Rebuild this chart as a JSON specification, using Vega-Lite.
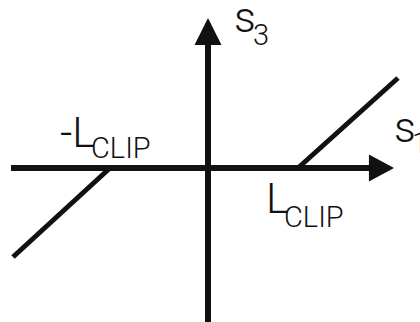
{
  "$schema": "https://vega.github.io/schema/vega-lite/v6.json",
  "width": 420,
  "height": 322,
  "autosize": {"type": "none"},
  "padding": 0,
  "background": "white",
  "config": {"view": {"stroke": null}},
  "datasets": {
    "axes": [
      {"axis": "s1", "s1": -197, "s3": 0},
      {"axis": "s1", "s1": 163, "s3": 0},
      {"axis": "s3", "s1": 0, "s3": -156},
      {"axis": "s3", "s1": 0, "s3": 124}
    ],
    "arrowheads": [
      {"axis": "s1", "s1": 173.5, "s3": 0},
      {"axis": "s3", "s1": 0, "s3": 136.5}
    ],
    "response": [
      {"piece": "below -Lclip", "s1": -195, "s3": -89},
      {"piece": "below -Lclip", "s1": -98, "s3": 0},
      {"piece": "above Lclip", "s1": 90, "s3": 0},
      {"piece": "above Lclip", "s1": 190, "s3": 90}
    ],
    "labels": [
      {"text": "s", "role": "main", "s1": 26, "s3": 136},
      {"text": "3", "role": "sub", "s1": 45, "s3": 123},
      {"text": "s", "role": "main", "s1": 186, "s3": 26},
      {"text": "1", "role": "sub", "s1": 204, "s3": 15},
      {"text": "-L", "role": "main", "s1": -148, "s3": 21},
      {"text": "CLIP", "role": "sub", "s1": -117, "s3": 10},
      {"text": "L", "role": "main", "s1": 58, "s3": -45},
      {"text": "CLIP", "role": "sub", "s1": 76, "s3": -59}
    ]
  },
  "encoding": {
    "x": {"field": "s1", "type": "quantitative", "scale": {"domain": [-208, 212]}, "axis": null},
    "y": {"field": "s3", "type": "quantitative", "scale": {"domain": [-154, 168]}, "axis": null}
  },
  "layer": [
    {
      "data": {"name": "axes"},
      "mark": {"type": "line", "color": "#111", "strokeWidth": 6, "strokeCap": "butt"},
      "encoding": {"detail": {"field": "axis"}}
    },
    {
      "data": {"name": "arrowheads"},
      "mark": {"type": "point", "filled": true, "color": "#111", "opacity": 1, "size": 729},
      "encoding": {
        "shape": {
          "field": "axis",
          "type": "nominal",
          "scale": {"domain": ["s1", "s3"], "range": ["M-0.93,-1L0.93,0L-0.93,1Z", "M-1,1L0,-1L1,1Z"]},
          "legend": null
        }
      }
    },
    {
      "data": {"name": "response"},
      "mark": {"type": "line", "color": "#111", "strokeWidth": 5, "strokeCap": "butt"},
      "encoding": {"detail": {"field": "piece"}}
    },
    {
      "data": {"name": "labels"},
      "mark": {"type": "text", "align": "left", "baseline": "alphabetic", "font": "Roboto", "fontWeight": 300, "color": "#111"},
      "encoding": {
        "text": {"field": "text"},
        "size": {"field": "role", "type": "ordinal", "scale": {"domain": ["main", "sub"], "range": [43, 29]}, "legend": null}
      }
    }
  ]
}
